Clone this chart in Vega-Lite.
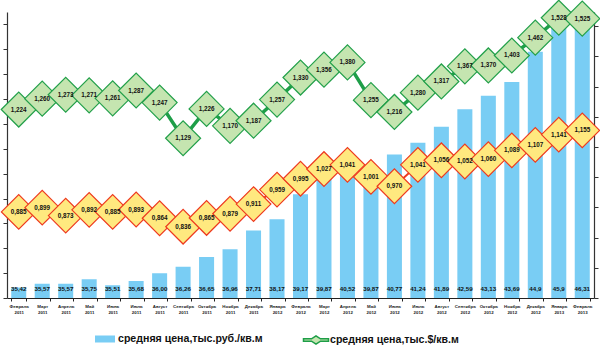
{
  "$schema": "https://vega.github.io/schema/vega-lite/v6.json",
  "width": 587,
  "height": 286,
  "autosize": "none",
  "padding": {"left": 7, "top": 12, "right": 6, "bottom": 49},
  "config": {
    "view": {"stroke": null},
    "locale": {"number": {"decimal": ",", "thousands": " ", "grouping": [3], "currency": ["", ""]}},
    "font": "Liberation Sans"
  },
  "data": {
    "values": [
      {"m": "Февраль 2011", "rub": 35.42, "rl": "35,42", "usd": 1.224, "eur": 0.885},
      {"m": "Март 2011", "rub": 35.57, "rl": "35,57", "usd": 1.260, "eur": 0.899},
      {"m": "Апрель 2011", "rub": 35.57, "rl": "35,57", "usd": 1.273, "eur": 0.873},
      {"m": "Май 2011", "rub": 35.75, "rl": "35,75", "usd": 1.271, "eur": 0.892},
      {"m": "Июнь 2011", "rub": 35.51, "rl": "35,51", "usd": 1.261, "eur": 0.885},
      {"m": "Июль 2011", "rub": 35.68, "rl": "35,68", "usd": 1.287, "eur": 0.893},
      {"m": "Август 2011", "rub": 36.00, "rl": "36,00", "usd": 1.247, "eur": 0.864},
      {"m": "Сентябрь 2011", "rub": 36.26, "rl": "36,26", "usd": 1.129, "eur": 0.836},
      {"m": "Октябрь 2011", "rub": 36.65, "rl": "36,65", "usd": 1.226, "eur": 0.865},
      {"m": "Ноябрь 2011", "rub": 36.96, "rl": "36,96", "usd": 1.170, "eur": 0.879},
      {"m": "Декабрь 2011", "rub": 37.71, "rl": "37,71", "usd": 1.187, "eur": 0.911},
      {"m": "Январь 2012", "rub": 38.17, "rl": "38,17", "usd": 1.257, "eur": 0.959},
      {"m": "Февраль 2012", "rub": 39.17, "rl": "39,17", "usd": 1.330, "eur": 0.995},
      {"m": "Март 2012", "rub": 39.87, "rl": "39,87", "usd": 1.356, "eur": 1.027},
      {"m": "Апрель 2012", "rub": 40.52, "rl": "40,52", "usd": 1.380, "eur": 1.041},
      {"m": "Май 2012", "rub": 39.87, "rl": "39,87", "usd": 1.255, "eur": 1.001},
      {"m": "Июнь 2012", "rub": 40.77, "rl": "40,77", "usd": 1.216, "eur": 0.970},
      {"m": "Июль 2012", "rub": 41.24, "rl": "41,24", "usd": 1.280, "eur": 1.041},
      {"m": "Август 2012", "rub": 41.89, "rl": "41,89", "usd": 1.317, "eur": 1.056},
      {"m": "Сентябрь 2012", "rub": 42.59, "rl": "42,59", "usd": 1.367, "eur": 1.052},
      {"m": "Октябрь 2012", "rub": 43.13, "rl": "43,13", "usd": 1.370, "eur": 1.060},
      {"m": "Ноябрь 2012", "rub": 43.69, "rl": "43,69", "usd": 1.403, "eur": 1.089},
      {"m": "Декабрь 2012", "rub": 44.9, "rl": "44,9", "usd": 1.462, "eur": 1.107},
      {"m": "Январь 2013", "rub": 45.9, "rl": "45,9", "usd": 1.528, "eur": 1.141},
      {"m": "Февраль 2013", "rub": 46.31, "rl": "46,31", "usd": 1.525, "eur": 1.155}
    ]
  },
  "encoding": {
    "x": {
      "field": "m", "type": "ordinal", "sort": null,
      "scale": {"paddingInner": 0.36, "paddingOuter": 0.18},
      "axis": {
        "title": null, "labelAngle": 0, "labelExpr": "split(datum.label, ' ')",
        "labelFontSize": 4.4, "labelLineHeight": 6, "labelFontWeight": "bold", "labelColor": "#222",
        "tickBand": "extent", "tickSize": 3, "tickColor": "#222", "domainColor": "#222",
        "labelPadding": 3, "grid": false
      }
    }
  },
  "layer": [
    {
      "encoding": {
        "y": {
          "type": "quantitative",
          "scale": {"domain": [35, 46.5], "nice": false, "zero": false},
          "axis": {"orient": "left", "title": null, "labels": false, "grid": false,
                   "values": [35, 36, 37, 38, 39, 40, 41, 42, 43, 44, 45, 46],
                   "tickSize": 4, "tickColor": "#333", "domainColor": "#333", "domainWidth": 1.2}
        }
      },
      "layer": [
        {
          "mark": {"type": "bar", "clip": true},
          "encoding": {
            "y": {"field": "rub"},
            "fill": {"datum": "средняя цена,тыс.руб./кв.м", "type": "nominal",
                     "scale": {"range": ["#79CDF4"]},
                     "legend": {"title": null, "orient": "none", "legendX": 88, "legendY": 317,
                                "symbolType": "M-1,-0.35L1,-0.35L1,0.35L-1,0.35Z", "symbolSize": 400,
                                "symbolStrokeWidth": 0, "labelFontSize": 10.6, "labelFontWeight": "bold",
                                "labelColor": "#111", "labelOffset": 3, "padding": 0}}
          }
        },
        {
          "mark": {"type": "text", "fontSize": 6.2, "fontWeight": "bold", "color": "#111", "dy": -9},
          "encoding": {"y": {"datum": 35}, "text": {"field": "rl"}}
        }
      ]
    },
    {
      "encoding": {
        "y": {
          "type": "quantitative",
          "scale": {"domain": [0.6, 1.547], "nice": false, "zero": false},
          "axis": {"orient": "right", "title": null, "labels": false, "grid": false,
                   "values": [0.6, 0.7, 0.8, 0.9, 1.0, 1.1, 1.2, 1.3, 1.4, 1.5],
                   "tickSize": 4, "tickColor": "#333", "domainColor": "#333", "domainWidth": 1.2}
        }
      },
      "layer": [
        {
          "mark": {"type": "line", "color": "#EE3A1F", "strokeWidth": 2},
          "encoding": {"y": {"field": "eur"}}
        },
        {
          "mark": {"type": "line", "strokeWidth": 3.5},
          "encoding": {
            "y": {"field": "usd"},
            "stroke": {"datum": "средняя цена,тыс.$/кв.м", "type": "nominal",
                       "scale": {"range": ["#1E9E48"]},
                       "legend": {"title": null, "orient": "none", "legendX": 298, "legendY": 317,
                                  "symbolType": "M-1.25,-0.12L-0.45,-0.12L0,-0.42L0.45,-0.12L1.25,-0.12L1.25,0.12L0.45,0.12L0,0.42L-0.45,0.12L-1.25,0.12Z",
                                  "symbolSize": 400, "symbolFillColor": "#C5E5B0", "symbolStrokeWidth": 1.5,
                                  "labelFontSize": 10.6, "labelFontWeight": "bold",
                                  "labelColor": "#111", "labelOffset": 3, "padding": 0}}
          }
        },
        {
          "mark": {"type": "point", "shape": "diamond", "size": 1200, "filled": true, "fill": "#FFE97F", "stroke": "#EE3A1F", "strokeWidth": 1.2, "opacity": 1},
          "encoding": {"y": {"field": "eur"}}
        },
        {
          "mark": {"type": "point", "shape": "diamond", "size": 1225, "filled": true, "fill": "#C5E5B0", "stroke": "#22A04A", "strokeWidth": 1.2, "opacity": 1},
          "encoding": {"y": {"field": "usd"}}
        },
        {
          "mark": {"type": "text", "fontSize": 6.3, "fontWeight": "bold", "color": "#111"},
          "encoding": {"y": {"field": "eur"}, "text": {"field": "eur", "format": ".3f"}}
        },
        {
          "mark": {"type": "text", "fontSize": 6.3, "fontWeight": "bold", "color": "#111"},
          "encoding": {"y": {"field": "usd"}, "text": {"field": "usd", "format": ".3f"}}
        }
      ]
    }
  ],
  "resolve": {"scale": {"y": "independent"}}
}
